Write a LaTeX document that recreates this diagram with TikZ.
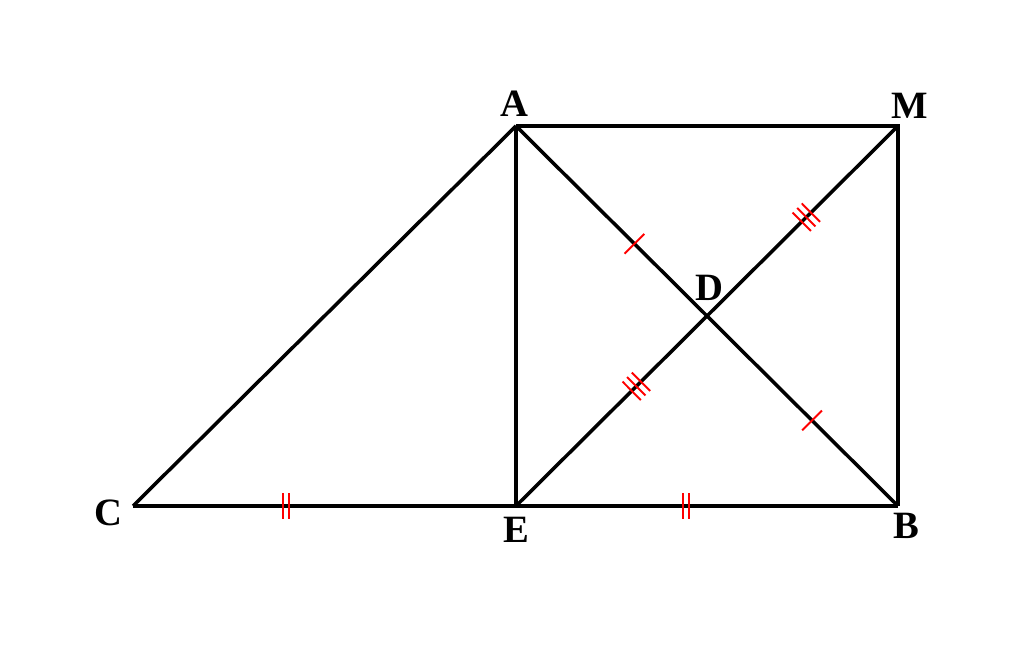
\documentclass[tikz,border=0pt]{standalone}
\usepackage{fontspec}
\setmainfont{Liberation Serif}
\usetikzlibrary{calc,decorations.markings}

\tikzset{
    seg/.style={line width=2pt, black},
    lbl/.style={font=\fontsize{22}{24}\selectfont\bfseries, inner sep=0pt},
    onetick/.style={postaction={decorate, decoration={markings,
        mark=at position #1 with {\draw[red, line width=1.1pt] (0,-0.28) -- (0,0.28);}}}},
    twotick/.style={postaction={decorate, decoration={markings,
        mark=at position #1 with {\foreach \s in {-0.055,0.055} \draw[red, line width=1.1pt] (\s,-0.26) -- (\s,0.26);}}}},
    threetick/.style={postaction={decorate, decoration={markings,
        mark=at position #1 with {\foreach \s in {-0.13,0,0.13} \draw[red, line width=1.1pt] (\s,-0.26) -- (\s,0.26);}}}}
}

\begin{document}
\begin{tikzpicture}
    \useasboundingbox (-10.32,-2.82) rectangle (10.16,10.12);

    % Points
    \coordinate (E) at (0,0);
    \coordinate (A) at (0,7.6);
    \coordinate (M) at (7.64,7.6);
    \coordinate (B) at (7.64,0);
    \coordinate (C) at (-7.66,0);
    \coordinate (D) at (3.82,3.8);

    % Sides
    \draw[seg] (A) -- (M) -- (B);
    \draw[seg] (A) -- (C);
    \draw[seg] (A) -- (E);
    \draw[seg, twotick=0.4] (C) -- (E);
    \draw[seg, twotick=0.445] (E) -- (B);

    % Diagonals
    \draw[seg, onetick=0.62] (A) -- (D);
    \draw[seg, onetick=0.55] (D) -- (B);
    \draw[seg, threetick=0.63] (E) -- (D);
    \draw[seg, threetick=0.52] (D) -- (M);

    % Labels
    \node[lbl] (lA) at (-0.04,8.04) {A};
    \node[lbl] (lM) at (7.88,8.0) {M};
    \node[lbl] (lD) at (3.86,4.36) {D};
    \node[lbl] (lC) at (-8.16,-0.14) {C};
    \node[lbl] (lE) at (0,-0.48) {E};
    \node[lbl] (lB) at (7.8,-0.4) {B};
\end{tikzpicture}
\end{document}
